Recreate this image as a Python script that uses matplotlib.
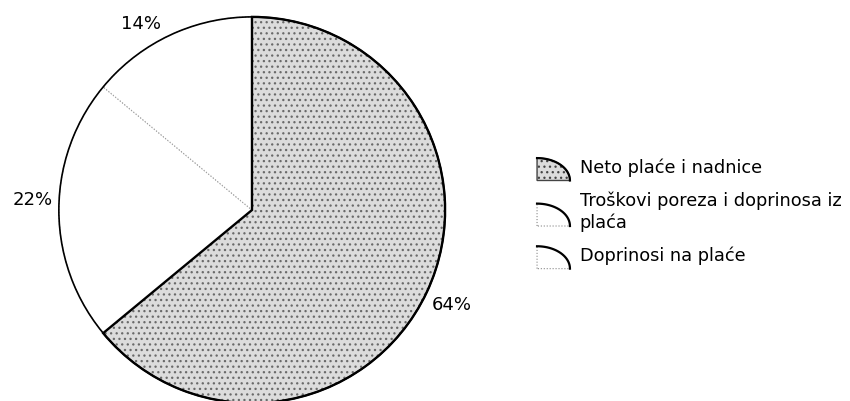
import numpy as np
import matplotlib.pyplot as plt
from matplotlib.legend_handler import HandlerBase
from matplotlib.lines import Line2D
from matplotlib.patches import Wedge, Patch, Polygon

categories = ["Neto plaće i nadnice", "Troškovi poreza i doprinosa iz\nplaća", "Doprinosi na plaće"]
shares = [64, 22, 14]
pct_labels = ["64%", "22%", "14%"]

faces = ["#dcdcdc", "#ffffff", "#ffffff"]
hatches = ["...", "", ""]
plt.rcParams["hatch.linewidth"] = 0.9


class QuarterHandler(HandlerBase):
    # quarter-pie shaped legend key, arc from top-left to bottom-right
    def create_artists(self, legend, orig_handle, xdescent, ydescent,
                       width, height, fontsize, trans):
        x0, y0 = -xdescent, -ydescent - 3
        w, h = width, height + 3
        t = np.linspace(0, np.pi / 2, 30)
        ax_ = x0 + w * np.sin(t)
        ay_ = y0 + h * np.cos(t)
        pts = np.column_stack([np.r_[x0, ax_], np.r_[y0, ay_]])
        solid = orig_handle.get_hatch() not in (None, "")
        poly = Polygon(pts, closed=True, facecolor=orig_handle.get_facecolor(),
                       hatch=orig_handle.get_hatch(),
                       edgecolor="#444444" if solid else "#888888",
                       linewidth=1.0 if solid else 0.8,
                       linestyle="-" if solid else ":", transform=trans)
        arc = Line2D(ax_, ay_, color="black", linewidth=1.6, transform=trans)
        return [poly, arc]


fig = plt.figure(figsize=(8.5, 4.01), dpi=100)
ax = fig.add_axes([0.0647, -0.015, 0.4635, 0.9825])

wedges, _ = ax.pie(shares, startangle=90, counterclock=False, colors=faces,
                   wedgeprops=dict(edgecolor="#9a9a9a", linewidth=0.8,
                                   linestyle=":"))
wedges[0].set_hatch(hatches[0])
wedges[0].set_edgecolor("#6a6a6a")
wedges[0].set_linewidth(0)
wedges[0].set_linestyle("-")

# outer circle and the dark outline of the big slice
ax.add_patch(Wedge((0, 0), 1, 0, 360, fill=False, edgecolor="black",
                   linewidth=1.2))
w0 = wedges[0]
ax.add_patch(Wedge((0, 0), 1, w0.theta1, w0.theta2, fill=False,
                   edgecolor="black", linewidth=1.7))
ax.set_xlim(-1.02, 1.02)
ax.set_ylim(-1.02, 1.02)
ax.set_aspect("equal")
ax.axis("off")

label_pos = [(1.036, -0.492), (-1.135, 0.052), (-0.575, 0.964)]
for (x, y), t in zip(label_pos, pct_labels):
    ax.text(x, y, t, fontsize=13, ha="center", va="center", clip_on=False)

handles = [Patch(facecolor=f, hatch=h, label=c)
           for f, h, c in zip(faces, hatches, categories)]
fig.legend(handles=handles, loc="center left", bbox_to_anchor=(0.613, 0.472),
           frameon=False, fontsize=12.8, handlelength=1.85, handleheight=1.2,
           handletextpad=0.55, labelspacing=0.82,
           handler_map={Patch: QuarterHandler()})

fig.savefig("out.png", dpi=100)
